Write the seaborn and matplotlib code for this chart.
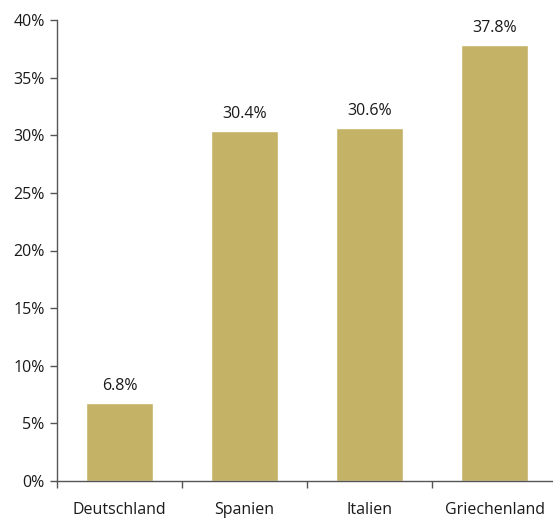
import matplotlib
matplotlib.use("Agg")
import matplotlib.pyplot as plt
import seaborn as sns
import pandas as pd

categories = ["Deutschland", "Spanien", "Italien", "Griechenland"]
values = [6.8, 30.4, 30.6, 37.8]
yticks = [0, 5, 10, 15, 20, 25, 30, 35, 40]

sns.set_theme(style="white")
plt.rcParams['font.family'] = ['Open Sans', 'DejaVu Sans']

df = pd.DataFrame({"Land": categories, "Wert": values})

fig = plt.figure(figsize=(5.53, 5.18), dpi=100)
ax = fig.add_axes([57/553, 1-481/518, (557-57)/553, (481-20)/518])
sns.barplot(data=df, x="Land", y="Wert", color="#C4B266", saturation=1,
            width=0.54, ax=ax)

fs = 11.5
ax.set_xlim(-0.5, 3.5)
ax.set_ylim(0, 40)
ax.set_yticks(yticks)
ax.set_yticklabels([f"{t}%" for t in yticks], fontsize=fs, color="#1a1a1a")
ax.set_xticks([-0.5, 0.5, 1.5, 2.5, 3.5])
ax.set_xticklabels([])
ax.set_xticks(range(len(categories)), minor=True)
ax.set_xticklabels(categories, minor=True, fontsize=fs, color="#1a1a1a")
ax.tick_params(axis="x", which="major", direction="out", length=5, width=1, color="#555555", bottom=True)
ax.tick_params(axis="x", which="minor", length=0, pad=15)
ax.tick_params(axis="y", direction="out", length=5, width=1, color="#555555", left=True, pad=4)
ax.set_xlabel("")
ax.set_ylabel("")
for s in ["top", "right"]:
    ax.spines[s].set_visible(False)
for s in ["left", "bottom"]:
    ax.spines[s].set_color("#555555")
    ax.spines[s].set_linewidth(1)

for i, v in enumerate(values):
    ax.annotate(f"{v}%", (i, v), xytext=(0, 6.5), textcoords="offset points",
                ha="center", va="bottom", fontsize=fs, color="#1a1a1a")

fig.savefig("out.png", dpi=100)
